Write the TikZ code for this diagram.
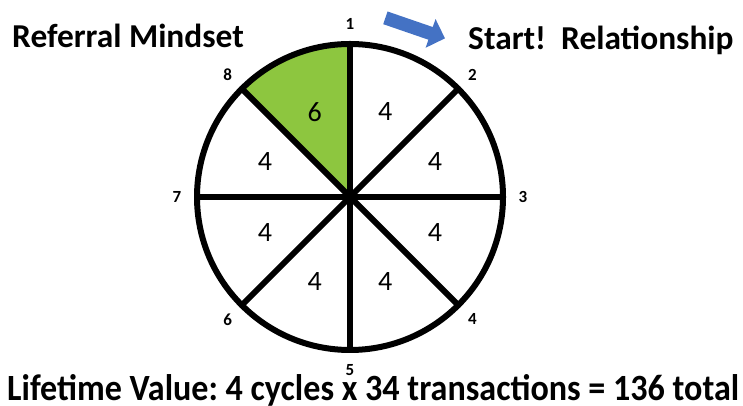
\documentclass[tikz,border=0pt]{standalone}
\usepackage{fontspec}
\setmainfont{Carlito}
\usetikzlibrary{shapes.arrows,calc}
\definecolor{sectorgreen}{RGB}{141,198,63}
\definecolor{arrowblue}{RGB}{68,114,196}
\frenchspacing

\begin{document}
\begin{tikzpicture}[x=1pt,y=1pt,line cap=round,line join=round,
		rim/.style={line width=6pt},
		spoke/.style={line width=6pt},
		count/.style={font=\fontsize{28}{28}\selectfont},
		tick/.style={font=\bfseries\fontsize{17}{17}\selectfont},
		title/.style={font=\bfseries\fontsize{33.4}{33.4}\selectfont,anchor=base west,inner sep=0pt}]
	\useasboundingbox (0,0) rectangle (743,406);
	\coordinate (c) at (350,209);
	\fill [sectorgreen] (c) -- ++(90:153) arc (90:135:153) -- cycle;
	\foreach \a in {0,45,...,315}
		\draw [spoke] (c) -- ++(\a:153);
	\draw [rim] (c) circle (153);
	\foreach \a/\v [count=\i] in {112.5/6,67.5/4,22.5/4,-22.5/4,-67.5/4,-112.5/4,-157.5/4,157.5/4}
		\node [count] (s\i) at ($(c)+(\a:92)$) {\v};
	\foreach \k in {1,...,8}
		\node [tick] (t\k) at ($(c)+({90-45*(\k-1)}:173)$) {\k};
	\node [single arrow,fill=arrowblue,minimum height=63pt,inner xsep=0pt,inner ysep=6.5pt,
		single arrow head extend=8.5pt,rotate=-19] (go) at (412,379) {};
	\node [title] (referral) at (12,358) {Referral Mindset};
	\node [title] (start) at (468,356) {Start!\ \ Relationship};
	\node [title,font=\bfseries\fontsize{37}{37}\selectfont] (lifetime) at (7,5)
		{\resizebox{732pt}{\height}{Lifetime Value: 4 cycles x 34 transactions = 136 total}};
\end{tikzpicture}
\end{document}
